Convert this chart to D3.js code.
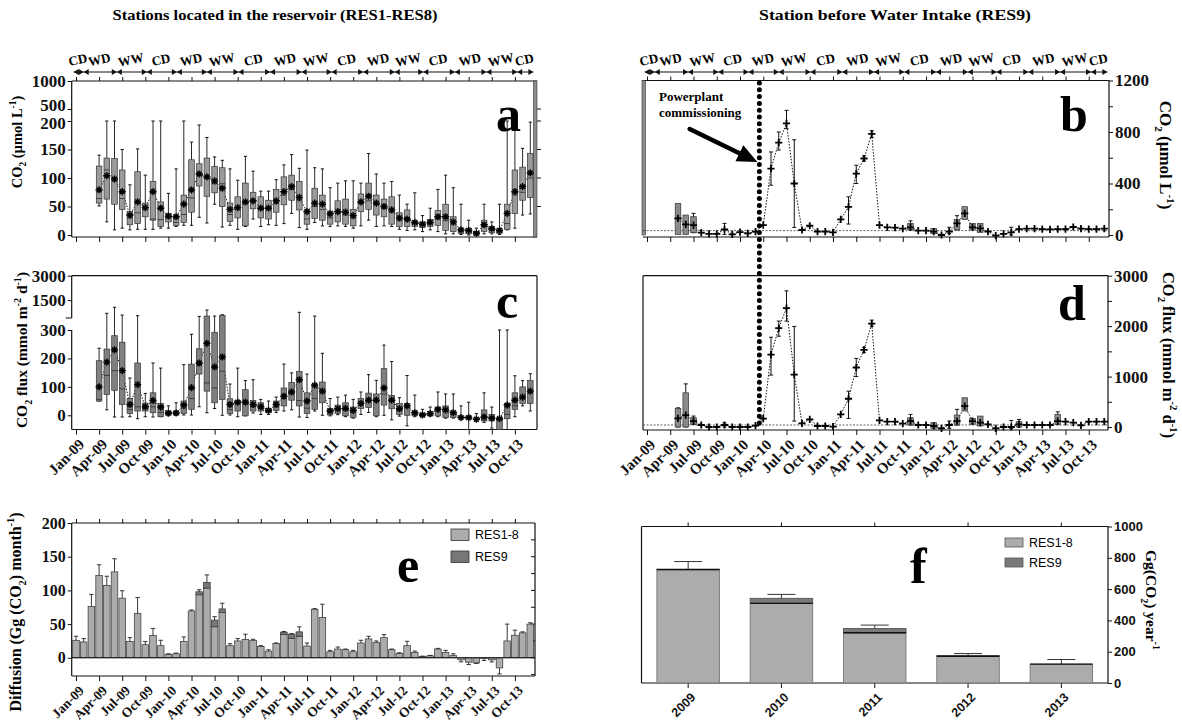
<!DOCTYPE html>
<html>
<head>
<meta charset="utf-8">
<script src="https://cdn.jsdelivr.net/npm/d3@7"></script>
<style>
  body { margin: 0; background: #fff; }
  svg { display: block; font-family: 'Liberation Serif', 'Times New Roman', serif; font-weight: bold; }
</style>
</head>
<body>
<svg id="chart" width="1182" height="725"></svg>
<script>
// ---------- data ----------
const quarterLabels = ['Jan-09','Apr-09','Jul-09','Oct-09','Jan-10','Apr-10','Jul-10','Oct-10','Jan-11','Apr-11',
  'Jul-11','Oct-11','Jan-12','Apr-12','Jul-12','Oct-12','Jan-13','Apr-13','Jul-13','Oct-13'];
const quarterMonths = quarterLabels.map((d, i) => i * 3); // month index, Jan-09 = 0

const seasonNames = ['CD','WD','WW','CD','WD','WW','CD','WD','WW','CD','WD','WW','CD','WD','WW','CD'];
const seasonBounds = [-0.3, 1.0, 5.3, 9.2, 13.1, 17.0, 21.1, 25.2, 29.3, 33.2, 37.3, 41.4, 45.1, 49.2, 53.3, 57.3, 59.4];

// panel a : CO2 RES1-8, monthly boxes Apr-09 .. Dec-13
const boxStart = 3;
const aLo   = [51,23,9,12,9,10,10,10,12,12,15,17, 17,31,21,54,14,17,10,15,28,15,18,17, 20,38,13,10,22,16,15,16,15,12, 16,26,15,16,15,10,8,9,6,9, 6,2,2,1,0,0,2,2,1,9, 12,35,37];
const aQ1   = [56,63,54,45,18,20,32,26,15,23,17,22, 40,86,68,74,50,24,30,16,46,30,28,40, 53,61,44,19,29,26,19,23,19,16, 41,45,35,32,19,15,15,15,13,15, 17,8,6,3,2,0,6,4,3,10, 38,61,66];
const aMed  = [64,114,100,64,30,39,45,28,27,30,22,36, 65,105,102,90,90,36,45,55,60,45,47,55, 70,80,60,28,50,45,30,38,35,30, 55,60,55,48,40,25,25,20,18,20, 28,25,18,7,6,3,15,9,7,20, 70,75,100];
const aQ3   = [121,135,134,114,41,111,56,94,58,38,35,70, 132,125,135,120,118,56,67,91,75,67,61,80, 102,105,94,44,82,70,42,60,63,45, 72,91,70,63,67,39,44,25,23,27, 43,54,32,12,12,6,26,15,11,54, 114,119,143];
const aHi   = [140,200,200,150,88,151,105,200,200,73,116,200, 163,193,171,137,131,116,96,138,112,77,77,97, 123,141,117,149,118,116,83,91,95,95, 91,143,107,91,94,70,54,74,34,47, 80,105,83,54,26,12,54,23,54,200, 200,152,198];
const aMean = [79,104,98,76,35,58,48,76,47,33,32,54, 79,107,102,95,82,45,48,58,60,47,47,60, 76,85,66,41,56,54,37,41,40,34, 58,68,56,50,44,30,28,22,19,22, 32,32,23,9,8,3,18,11,8,38, 76,85,109];

// panel c : CO2 flux RES1-8, Apr-09 .. Dec-13
const cLo   = [50,19,-6,-6,-5,-12,-5,-6,-5,-2,0,1, 1,30,9,24,0,1,-5,-2,8,3,3,10, 15,19,-6,-8,15,0,-2,2,-5,-10, 3,10,-5,0,-16,-3,-37,-5,-5,-3, -5,-10,-10,-12,-60,-20,-25,-45,-60,-60, -5,33,15];
const cQ1   = [50,73,88,38,6,15,15,9,-5,1,2,6, 21,145,85,44,56,6,15,-2,15,15,9,17, 33,53,33,6,21,44,1,6,-2,-8, 24,27,-2,36,23,3,0,-2,-3,-2, -2,-8,-8,-10,-14,-16,-20,-20,-50,-12, 21,42,42];
const cMed  = [56,140,157,93,20,30,25,30,10,6,6,25, 59,175,114,96,155,20,40,40,30,25,14,30, 60,75,52,25,59,80,10,20,20,15, 40,50,50,75,50,20,30,8,1,5, 20,18,8,-8,-8,-14,-8,-10,-15,3, 33,60,80];
const cQ3   = [192,233,280,257,59,184,43,79,41,15,15,50, 180,234,520,292,560,58,52,90,52,44,24,50, 96,116,154,79,110,117,24,36,44,29, 59,78,75,164,70,41,41,15,8,13, 29,33,15,-3,-2,-10,19,3,-8,42, 79,100,122];
const cHi   = [236,690,1060,580,131,540,77,184,166,33,44,178, 285,500,890,520,600,110,166,122,125,56,50,64, 180,149,750,145,520,218,59,64,71,56, 82,143,123,247,189,62,140,71,21,29, 82,75,75,33,46,6,79,29,300,300, 139,122,146];
const cMean = [100,187,230,157,38,108,30,52,29,8,8,36, 97,184,253,170,205,38,46,46,38,30,17,38, 67,82,125,50,106,85,15,23,24,17, 42,53,53,96,53,23,33,9,1,6, 21,19,9,-8,-8,-14,-6,-10,-12,36, 53,64,85];

// panel b : CO2 RES9, May-09 .. Dec-13
const res9Start = 4;
const bMean = [129,83,77,18,8,8,44,5, 23,13,26,77,516,717,867,400,39,72,26,26, 21,121,219,477,594,785,77,59,57,49,60,34, 34,26,0,26,90,168,59,52,26,-5,8,20, 46,50,50,46,44,46,46,62,50,46,46,50];
const bErrMonth = [6,10,16,17,18,19,26,27,28,29,34,39,40,47];
const bErrLo    = [18,5,387,660,826,59,85,400,575,758,40,10,40,0];
const bErrHi    = [168,90,645,800,968,740,297,542,615,810,110,60,150,60];
const bBoxMonth = [4,5,6,34,37,40,41,42,43];
const bBoxQ1    = [5,5,18,40,10,40,120,40,20];
const bBoxQ3    = [245,155,142,90,50,120,220,90,90];
const bRef = 34;

// panel d : CO2 flux RES9, May-09 .. Dec-13
const dMean = [171,237,118,40,0,0,40,0, 0,0,26,165,1434,1961,2356,1040,72,151,20,20, 7,250,560,1180,1530,2050,132,105,105,66,118,40, 40,20,-26,40,118,415,118,86,53,-26,0,0, 53,40,40,40,40,118,105,86,33,105,105,105];
const dErrMonth = [4,5,6,10,16,17,18,19,26,27,28,29,34,39,40,47,48,53];
const dErrLo    = [0,0,53,0,1030,1800,2100,118,171,1000,1480,2000,40,-26,40,-26,0,53];
const dErrHi    = [380,855,217,80,1780,2100,2700,1994,710,1360,1580,2120,250,120,350,130,150,300];
const dBoxMonth = [4,5,6,34,37,40,41,42,43,48,53];
const dBoxQ1    = [0,0,53,40,-26,40,316,53,20,0,53];
const dBoxQ3    = [368,678,184,184,86,237,580,171,217,105,250];
const dRef = 40;

const commissionMonth = 14.5;

// panel e : monthly diffusion Jan-09 .. Dec-13
const eRes18 = [26,23.5,76,122,107.5,127.5,88.5,24,66,19.5,33,18, 5,6,24,69.5,93.5,103.5,46,67,18,25,27,26,
  17,10,21,34.5,28.5,32,17.5,72,60,9,13,12, 9,22,28,23,30,12,6.5,18,8,2,3,13,
  8,3.5,-3,-6.5,-7.5,-1,-3,-15,25,33.5,37,50];
const eRes9  = [0,0,0,0,0,0,0,0,0,0,0,0, 0,0,0,0,4.5,8.5,10,5.5,0,0,0,0,
  0,0,0,3.5,6.5,6.5,0,0,0,0,0,0, 0,0,0,0,0,0,0,0,0,0,0,0, 0,0,0,0,0,0,0,0,0,0,0,0];
const eErr   = [32,28.5,94,138,121,147,99.5,30,89.5,24,43.5,26, 6,7,31,71,101,123,61,81,21,28.5,35,27.5,
  18,12,22,39,36,46,22,73,79.5,11,16,13, 11,26,32,25,34.5,13,7.5,24.5,10,2.5,3.5,14,
  11,6,-6,-10,-8.5,-4,-6,-24,50,41,38.5,52];

// panel f : yearly diffusion
const years = ['2009','2010','2011','2012','2013'];
const fRes18 = [724, 509, 321, 171, 120];
const fRes9  = [4, 32, 27, 4, 0];
const fErr   = [776, 566, 370, 188, 150];

// ---------- layout ----------
const SERIF = "'Liberation Serif', 'Times New Roman', serif";
const SANS = "'Liberation Sans', Arial, sans-serif";
const svg = d3.select('#chart');

const A = { x0: 71.7, x1: 537, y0: 81, y1: 237 };
const B = { x0: 643, x1: 1109, y0: 80.5, y1: 237 };
const C = { x0: 71.7, x1: 537, y0: 275.7, y1: 429.5 };
const D = { x0: 643, x1: 1108, y0: 275.7, y1: 430 };
const E = { x0: 71.7, x1: 535, y0: 523, y1: 676 };
const F = { x0: 641.5, x1: 1108, y0: 526.5, y1: 683 };

const xL = d3.scaleLinear().domain([0, 59]).range([76, 76 + 59 * 7.7]);
const xR = d3.scaleLinear().domain([0, 59]).range([647, 647 + 59 * 7.75]);
const yA = d3.scaleLinear().domain([0, 200, 500, 1000]).range([235, 121, 109, A.y0]);
const yB = d3.scaleLinear().domain([0, 1200]).range([235, B.y0]);
const yC = d3.scaleLinear().domain([-50, 300, 400, 3000]).range([C.y1, 330, 318, C.y0]).clamp(true);
const yD = d3.scaleLinear().domain([0, 3000]).range([427, D.y0]);
const yE = d3.scaleLinear().domain([-27, 200]).range([E.y1, E.y0]);
const xF = d3.scaleBand().domain(years).range([F.x0, F.x1]).paddingInner(0.33).paddingOuter(0.165);
const yF = d3.scaleLinear().domain([0, 1000]).range([F.y1, F.y0]);

// ---------- helpers ----------
function styleAxis(g, size, family) {
  g.attr('font-size', size).attr('font-family', family || SERIF).attr('font-weight', 'bold').attr('color', '#111');
  g.select('.domain').remove();
}

function hline(x0, x1, y, w) {
  svg.append('line').attr('x1', x0).attr('x2', x1).attr('y1', y).attr('y2', y)
    .attr('stroke', '#111').attr('stroke-width', w || 1.2);
}
function vline(x, y0, y1, w) {
  svg.append('line').attr('x1', x).attr('x2', x).attr('y1', y0).attr('y2', y1)
    .attr('stroke', '#111').attr('stroke-width', w || 1.2);
}

function richLabel(x, y, angle, size, parts) {
  const t = svg.append('text')
    .attr('transform', `translate(${x},${y}) rotate(${angle})`)
    .attr('text-anchor', 'middle')
    .attr('font-size', size);
  const shift = k => (k === 'sub' ? 0.3 : k === 'sup' ? -0.42 : 0);
  let prev = 'n';
  parts.forEach(([s, k]) => {
    t.append('tspan')
      .attr('dy', (shift(k) - shift(prev)) * size)
      .attr('font-size', k === 'n' ? size : size * 0.65)
      .text(s);
    prev = k;
  });
}

function monthAxisBottom(x, y, withLabels, size) {
  const g = svg.append('g').attr('transform', `translate(0,${y})`)
    .call(d3.axisBottom(x).tickValues(quarterMonths).tickSize(5).tickSizeOuter(0)
      .tickFormat((d, i) => (withLabels ? quarterLabels[i] : '')));
  styleAxis(g, size || 15);
  g.selectAll('.tick text')
    .attr('x', 0).attr('y', 0).attr('dy', '0.35em')
    .attr('text-anchor', 'end')
    .attr('transform', 'translate(5,12) rotate(-45)');
}
function monthAxisTop(x, y) {
  const g = svg.append('g').attr('transform', `translate(0,${y})`)
    .call(d3.axisTop(x).tickValues(quarterMonths).tickSize(4).tickSizeOuter(0).tickFormat(''));
  styleAxis(g, 10);
}

function drawSeasons(x, yLine) {
  const g = svg.append('g');
  seasonNames.forEach((name, i) => {
    const x0 = x(seasonBounds[i]), x1 = x(seasonBounds[i + 1]);
    g.append('line').attr('x1', x0).attr('x2', x1).attr('y1', yLine).attr('y2', yLine)
      .attr('stroke', '#111').attr('stroke-width', 1);
    g.append('path').attr('d', `M${x0},${yLine}L${x0 + 5},${yLine - 3}L${x0 + 5},${yLine + 3}Z`).attr('fill', '#111');
    g.append('path').attr('d', `M${x1},${yLine}L${x1 - 5},${yLine - 3}L${x1 - 5},${yLine + 3}Z`).attr('fill', '#111');
    g.append('text')
      .attr('transform', `translate(${(x0 + x1) / 2},${yLine - 8}) rotate(-12)`)
      .attr('text-anchor', 'middle').attr('font-size', 13)
      .text(name);
  });
}

const plusPath = 'M-3.6,0H3.6M0,-3.6V3.6';
const starPath = 'M-3.6,0H3.6M0,-3.6V3.6M-2.4,-2.4L2.4,2.4M-2.4,2.4L2.4,-2.4';

function drawBoxes(x, y, start, s, fill) {
  const g = svg.append('g');
  const bw = 5.6;
  const months = s.mean.map((d, i) => start + i);
  g.append('path').datum(s.mean)
    .attr('d', d3.line().x((d, i) => x(start + i)).y(d => y(d)))
    .attr('fill', 'none').attr('stroke', '#111').attr('stroke-width', 1).attr('stroke-dasharray', '1.5,1.5');
  const item = g.selectAll('g.box').data(months).join('g').attr('class', 'box');
  item.append('line')
    .attr('x1', m => x(m)).attr('x2', m => x(m))
    .attr('y1', (m, i) => y(s.lo[i])).attr('y2', (m, i) => y(s.hi[i]))
    .attr('stroke', '#111').attr('stroke-width', 0.9);
  ['lo', 'hi'].forEach(k => {
    item.append('line')
      .attr('x1', m => x(m) - 1.6).attr('x2', m => x(m) + 1.6)
      .attr('y1', (m, i) => y(s[k][i])).attr('y2', (m, i) => y(s[k][i]))
      .attr('stroke', '#111').attr('stroke-width', 1);
  });
  item.append('rect')
    .attr('x', m => x(m) - bw / 2).attr('width', bw)
    .attr('y', (m, i) => y(s.q3[i])).attr('height', (m, i) => Math.max(0.8, y(s.q1[i]) - y(s.q3[i])))
    .attr('fill', fill).attr('stroke', '#333').attr('stroke-width', 0.7);
  item.append('line')
    .attr('x1', m => x(m) - bw / 2).attr('x2', m => x(m) + bw / 2)
    .attr('y1', (m, i) => y(s.med[i])).attr('y2', (m, i) => y(s.med[i]))
    .attr('stroke', '#333').attr('stroke-width', 0.9);
  item.append('path')
    .attr('transform', (m, i) => `translate(${x(m)},${y(s.mean[i])})`)
    .attr('d', starPath).attr('stroke', '#000').attr('stroke-width', 1.4).attr('fill', 'none');
}

function drawSeries(x, y, start, mean, err, box, frame, ref) {
  const g = svg.append('g');
  g.append('line').attr('x1', frame.x0).attr('x2', frame.x1).attr('y1', y(ref)).attr('y2', y(ref))
    .attr('stroke', '#222').attr('stroke-width', 0.7).attr('stroke-dasharray', '2,1.5');
  g.append('path').datum(mean)
    .attr('d', d3.line().x((d, i) => x(start + i)).y(d => y(d)))
    .attr('fill', 'none').attr('stroke', '#111').attr('stroke-width', 1).attr('stroke-dasharray', '1.5,1.5');
  err.m.forEach((m, i) => {
    g.append('line').attr('x1', x(m)).attr('x2', x(m)).attr('y1', y(err.lo[i])).attr('y2', y(err.hi[i]))
      .attr('stroke', '#111').attr('stroke-width', 1);
    [err.lo[i], err.hi[i]].forEach(v => {
      g.append('line').attr('x1', x(m) - 2).attr('x2', x(m) + 2).attr('y1', y(v)).attr('y2', y(v))
        .attr('stroke', '#111').attr('stroke-width', 1);
    });
  });
  box.m.forEach((m, i) => {
    g.append('rect').attr('x', x(m) - 2.8).attr('width', 5.6)
      .attr('y', y(box.q3[i])).attr('height', y(box.q1[i]) - y(box.q3[i]))
      .attr('fill', '#8a8a8a').attr('stroke', '#333').attr('stroke-width', 0.7);
  });
  g.selectAll('path.pt').data(mean).join('path').attr('class', 'pt')
    .attr('transform', (d, i) => `translate(${x(start + i)},${y(d)})`)
    .attr('d', plusPath).attr('stroke', '#000').attr('stroke-width', 1.8).attr('fill', 'none');
}

function panelLetter(x, y, s) {
  svg.append('text').attr('x', x).attr('y', y).attr('font-size', 50).text(s);
}

// ---------- titles ----------
svg.append('text').attr('x', 275).attr('y', 20).attr('text-anchor', 'middle').attr('font-size', 15)
  .attr('textLength', 325).attr('lengthAdjust', 'spacingAndGlyphs')
  .text('Stations located in the reservoir (RES1-RES8)');
svg.append('text').attr('x', 895).attr('y', 20).attr('text-anchor', 'middle').attr('font-size', 15)
  .attr('textLength', 272).attr('lengthAdjust', 'spacingAndGlyphs')
  .text('Station before Water Intake (RES9)');

// ---------- panel a ----------
drawSeasons(xL, 72);
monthAxisTop(xL, A.y0);
monthAxisBottom(xL, A.y1, false);
hline(A.x0, A.x1, A.y0); hline(A.x0, A.x1, A.y1); vline(A.x0, A.y0, A.y1);
svg.append('rect').attr('x', A.x1 - 3.5).attr('y', A.y0).attr('width', 3.5).attr('height', A.y1 - A.y0)
  .attr('fill', '#8c8c8c').attr('stroke', '#333').attr('stroke-width', 0.6);
[500, 200, 150, 100, 50].forEach(v => hline(A.x1, A.x1 + 4, yA(v), 1));
const aAxis = svg.append('g').attr('transform', `translate(${A.x0},0)`)
  .call(d3.axisLeft(yA).tickValues([0, 50, 100, 150, 200, 500, 1000]).tickSize(4).tickPadding(2).tickFormat(d3.format('d')))
  .call(g => styleAxis(g, 17));
aAxis.selectAll('.tick text').attr('dy', d => (d === 500 ? '0.1em' : d === 200 ? '0.45em' : '0.32em'));
drawBoxes(xL, yA, boxStart, { lo: aLo, q1: aQ1, med: aMed, q3: aQ3, hi: aHi, mean: aMean }, '#9a9a9a');
panelLetter(496, 131, 'a');
richLabel(22, 142, -90, 14.5, [['CO', 'n'], ['2', 'sub'], [' (\u00b5mol L', 'n'], ['-1', 'sup'], [')', 'n']]);

// ---------- panel c ----------
monthAxisBottom(xL, C.y1, true);
hline(C.x0, C.x1, C.y0); hline(C.x0, C.x1, C.y1); vline(C.x1, C.y0, C.y1);
vline(C.x0, C.y0, 318); vline(C.x0, 330, C.y1);
hline(C.x0 - 6, C.x0, 318, 1);
svg.append('g').attr('transform', `translate(${C.x0},0)`)
  .call(d3.axisLeft(yC).tickValues([0, 100, 200, 300, 1500, 3000]).tickSize(4).tickPadding(2).tickFormat(d3.format('d')))
  .call(g => styleAxis(g, 17));
drawBoxes(xL, yC, boxStart, { lo: cLo, q1: cQ1, med: cMed, q3: cQ3, hi: cHi, mean: cMean }, '#808080');
panelLetter(496, 318, 'c');
richLabel(27, 350, -90, 15.5, [['CO', 'n'], ['2', 'sub'], [' flux (mmol m', 'n'], ['-2', 'sup'], [' d', 'n'], ['-1', 'sup'], [')', 'n']]);

// ---------- panel b ----------
drawSeasons(xR, 72);
monthAxisTop(xR, B.y0);
monthAxisBottom(xR, B.y1, false);
hline(B.x0, B.x1, B.y0); hline(B.x0, B.x1, B.y1); vline(B.x1, B.y0, B.y1);
svg.append('rect').attr('x', B.x0 - 1).attr('y', B.y0).attr('width', 3.5).attr('height', 235 - B.y0)
  .attr('fill', '#8c8c8c').attr('stroke', '#333').attr('stroke-width', 0.6);
svg.append('g').attr('transform', `translate(${B.x1},0)`)
  .call(d3.axisRight(yB).tickValues([0, 200, 400, 600, 800, 1000, 1200]).tickSize(4).tickPadding(2)
    .tickFormat(d => (d % 400 === 0 ? d : '')))
  .call(g => styleAxis(g, 17));
drawSeries(xR, yB, res9Start, bMean, { m: bErrMonth, lo: bErrLo, hi: bErrHi },
  { m: bBoxMonth, q1: bBoxQ1, q3: bBoxQ3 }, B, bRef);
panelLetter(1060, 131, 'b');
richLabel(1160, 155, 90, 17, [['CO', 'n'], ['2', 'sub'], [' (\u00b5mol L', 'n'], ['-1', 'sup'], [')', 'n']]);

// ---------- panel d ----------
monthAxisBottom(xR, D.y1, true);
hline(D.x0, D.x1, D.y0); hline(D.x0, D.x1, D.y1); vline(D.x0, D.y0, D.y1); vline(D.x1, D.y0, D.y1);
svg.append('g').attr('transform', `translate(${D.x1},0)`)
  .call(d3.axisRight(yD).tickValues([0, 500, 1000, 1500, 2000, 2500, 3000]).tickSize(4).tickPadding(2)
    .tickFormat(d => (d % 1000 === 0 ? d : '')))
  .call(g => styleAxis(g, 17));
drawSeries(xR, yD, res9Start, dMean, { m: dErrMonth, lo: dErrLo, hi: dErrHi },
  { m: dBoxMonth, q1: dBoxQ1, q3: dBoxQ3 }, D, dRef);
panelLetter(1058, 320, 'd');
richLabel(1163, 355, 90, 16.5, [['CO', 'n'], ['2', 'sub'], [' flux (mmol m', 'n'], ['-2', 'sup'], [' d', 'n'], ['-1', 'sup'], [')', 'n']]);

// ---------- commissioning annotation ----------
const xCom = xR(commissionMonth);
svg.append('line').attr('x1', xCom).attr('x2', xCom).attr('y1', 83).attr('y2', 428)
  .attr('stroke', '#000').attr('stroke-width', 5).attr('stroke-linecap', 'round').attr('stroke-dasharray', '0,6.8');
svg.append('text').attr('x', 659).attr('y', 101).attr('font-size', 13).text('Powerplant');
svg.append('text').attr('x', 659).attr('y', 117).attr('font-size', 13).text('commissioning');
const tip = [xCom - 2, yB(567)], tail = [xR(5.5), yB(823)];
const len = Math.hypot(tip[0] - tail[0], tip[1] - tail[1]);
const ux = (tip[0] - tail[0]) / len, uy = (tip[1] - tail[1]) / len;
const base = [tip[0] - 20 * ux, tip[1] - 20 * uy];
svg.append('line').attr('x1', tail[0]).attr('y1', tail[1]).attr('x2', base[0]).attr('y2', base[1])
  .attr('stroke', '#000').attr('stroke-width', 4.5).attr('stroke-linecap', 'round');
svg.append('path')
  .attr('d', `M${tip[0]},${tip[1]}L${base[0] - 9 * uy},${base[1] + 9 * ux}L${base[0] + 9 * uy},${base[1] - 9 * ux}Z`)
  .attr('fill', '#000');

// ---------- panel e ----------
monthAxisTop(xL, E.y0);
monthAxisBottom(xL, E.y1, true, 13.5);
hline(E.x0, E.x1, E.y0); hline(E.x0, E.x1, E.y1); vline(E.x0, E.y0, E.y1); vline(E.x1, E.y0, E.y1);
svg.append('g').attr('transform', `translate(${E.x0},0)`)
  .call(d3.axisLeft(yE).tickValues([0, 50, 100, 150, 200]).tickSize(4).tickPadding(2).tickFormat(d3.format('d')))
  .call(g => styleAxis(g, 16));
[-25, 0, 25, 50, 75, 100, 125, 150, 175].forEach(v => hline(E.x1 - 4, E.x1, yE(v), 1));
const eBw = 6.6;
const eG = svg.append('g');
eRes18.forEach((v, i) => {
  const cx = xL(i);
  eG.append('rect').attr('x', cx - eBw / 2).attr('width', eBw)
    .attr('y', Math.min(yE(v), yE(0))).attr('height', Math.abs(yE(v) - yE(0)))
    .attr('fill', '#acacac').attr('stroke', '#333').attr('stroke-width', 0.7);
  const top = v + eRes9[i];
  if (eRes9[i] > 0) {
    eG.append('rect').attr('x', cx - eBw / 2).attr('width', eBw)
      .attr('y', yE(top)).attr('height', yE(v) - yE(top))
      .attr('fill', '#777').attr('stroke', '#333').attr('stroke-width', 0.7);
  }
  eG.append('line').attr('x1', cx).attr('x2', cx).attr('y1', yE(top)).attr('y2', yE(eErr[i]))
    .attr('stroke', '#222').attr('stroke-width', 0.9);
  eG.append('line').attr('x1', cx - 2.2).attr('x2', cx + 2.2).attr('y1', yE(eErr[i])).attr('y2', yE(eErr[i]))
    .attr('stroke', '#222').attr('stroke-width', 0.9);
});
hline(E.x0, E.x1, yE(0), 1.1);
[['RES1-8', '#acacac', 529], ['RES9', '#777', 551]].forEach(([name, col, y]) => {
  svg.append('rect').attr('x', 451).attr('y', y).attr('width', 18).attr('height', 11.5)
    .attr('fill', col).attr('stroke', '#333').attr('stroke-width', 0.8);
  svg.append('text').attr('x', 475).attr('y', y + 10).attr('font-family', SANS).attr('font-weight', 'normal')
    .attr('font-size', 12.5).text(name);
});
panelLetter(397, 582, 'e');
richLabel(21, 612, -90, 16, [['Diffusion (Gg (CO', 'n'], ['2', 'sub'], [') month', 'n'], ['-1', 'sup'], [')', 'n']]);

// ---------- panel f ----------
hline(F.x0, F.x1, F.y0); hline(F.x0, F.x1, F.y1); vline(F.x0, F.y0, F.y1); vline(F.x1, F.y0, F.y1);
svg.append('g').attr('transform', `translate(0,${F.y0})`)
  .call(d3.axisTop(xF).tickSize(4).tickSizeOuter(0).tickFormat(''))
  .call(g => styleAxis(g, 10));
const fAxis = svg.append('g').attr('transform', `translate(0,${F.y1})`)
  .call(d3.axisBottom(xF).tickSize(5).tickSizeOuter(0));
styleAxis(fAxis, 12.5, SANS);
fAxis.selectAll('.tick text').attr('x', 0).attr('y', 0).attr('dy', '0.35em')
  .attr('text-anchor', 'end').attr('transform', 'translate(5,12) rotate(-45)');
svg.append('g').attr('transform', `translate(${F.x1},0)`)
  .call(d3.axisRight(yF).tickValues([0, 200, 400, 600, 800, 1000]).tickSize(4).tickPadding(2).tickFormat(d3.format('d')))
  .call(g => styleAxis(g, 13, SANS));
years.forEach((yr, i) => {
  const x0 = xF(yr), w = xF.bandwidth(), cx = x0 + w / 2;
  const top = fRes18[i] + fRes9[i];
  svg.append('line').attr('x1', cx).attr('x2', cx).attr('y1', yF(top)).attr('y2', yF(fErr[i]))
    .attr('stroke', '#333').attr('stroke-width', 1);
  svg.append('line').attr('x1', cx - 14).attr('x2', cx + 14).attr('y1', yF(fErr[i])).attr('y2', yF(fErr[i]))
    .attr('stroke', '#333').attr('stroke-width', 1);
  svg.append('rect').attr('x', x0).attr('width', w).attr('y', yF(fRes18[i])).attr('height', yF(0) - yF(fRes18[i]))
    .attr('fill', '#acacac').attr('stroke', '#777').attr('stroke-width', 0.9);
  if (fRes9[i] > 0) {
    svg.append('rect').attr('x', x0).attr('width', w).attr('y', yF(top)).attr('height', yF(fRes18[i]) - yF(top))
      .attr('fill', '#7a7a7a').attr('stroke', '#555').attr('stroke-width', 0.9);
  }
  svg.append('line').attr('x1', x0).attr('x2', x0 + w).attr('y1', yF(fRes18[i])).attr('y2', yF(fRes18[i]))
    .attr('stroke', '#111').attr('stroke-width', 1.3);
});
[['RES1-8', '#acacac', 538], ['RES9', '#7a7a7a', 558]].forEach(([name, col, y]) => {
  svg.append('rect').attr('x', 1005).attr('y', y).attr('width', 18).attr('height', 9)
    .attr('fill', col).attr('stroke', '#555').attr('stroke-width', 0.8);
  svg.append('text').attr('x', 1029).attr('y', y + 9).attr('font-family', SANS).attr('font-weight', 'normal')
    .attr('font-size', 12.5).text(name);
});
panelLetter(910, 583, 'f');
richLabel(1146, 600, 90, 15.5, [['Gg(CO', 'n'], ['2', 'sub'], [') year', 'n'], ['-1', 'sup']]);
</script>
</body>
</html>
